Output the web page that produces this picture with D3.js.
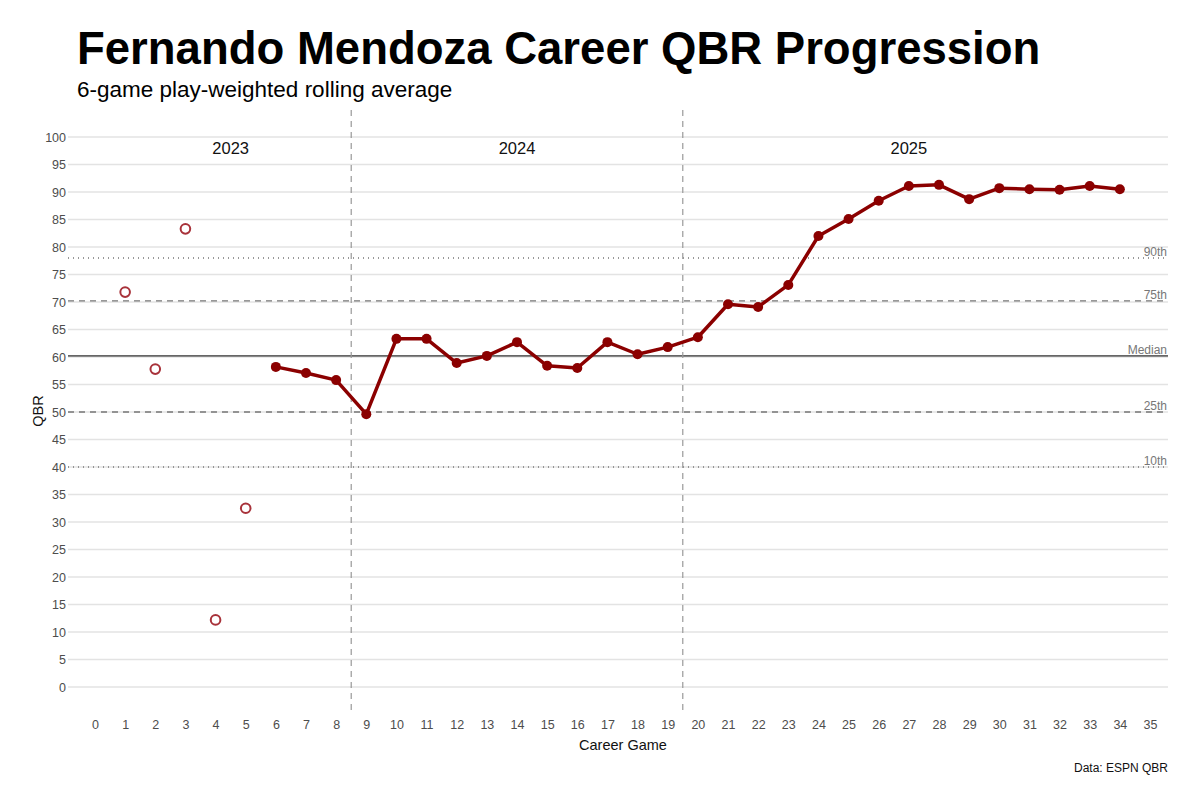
<!DOCTYPE html>
<html>
<head>
<meta charset="utf-8">
<script src="https://cdn.jsdelivr.net/npm/d3@7"></script>
<style>
  body { margin: 0; background: #fff; }
  svg { font-family: "Liberation Sans", Arial, sans-serif; }
</style>
</head>
<body>
<div id="chart"></div>
<script>
// early games (before the 6-game window fills): raw QBR
const earlyGames = [1, 2, 3, 4, 5];
const earlyQbr = [71.8, 57.8, 83.3, 12.2, 32.5];

// rolling average
const rollGames = [6, 7, 8, 9, 10, 11, 12, 13, 14, 15, 16, 17, 18, 19, 20,
  21, 22, 23, 24, 25, 26, 27, 28, 29, 30, 31, 32, 33, 34];
const rollQbr = [58.2, 57.1, 55.8, 49.6, 63.3, 63.3, 58.9, 60.2, 62.7, 58.4, 58.0, 62.7, 60.5, 61.8, 63.6,
  69.6, 69.1, 73.1, 82.0, 85.1, 88.4, 91.1, 91.3, 88.7, 90.7, 90.5, 90.4, 91.1, 90.5];

const pctLabels = ['90th', '75th', 'Median', '25th', '10th'];
const pctValues = [78.0, 70.2, 60.2, 50.0, 40.0];
const pctDash = ['1,4', '6,5', null, '6,5', '1,4'];

const seasons = ['2023', '2024', '2025'];
const seasonFirst = [1, 9, 20];
const seasonLast = [8, 19, 34];
const seasonBreaks = [8.5, 19.5];

const yTicks = d3.range(0, 101, 5);
const xTicks = d3.range(0, 36, 1);

const width = 1200, height = 801;
const svg = d3.select('#chart').append('svg')
    .attr('width', width)
    .attr('height', height);

// panel bounds
const pLeft = 68, pRight = 1168, pTop = 110, pBottom = 712;

let x = d3.scaleLinear().domain([0, 35]).range([95, 1150]);
let y = d3.scaleLinear().domain([0, 100]).range([687, 137]);

// grid
svg.append('g')
    .selectAll('line')
    .data(yTicks)
    .join('line')
    .attr('x1', pLeft).attr('x2', pRight)
    .attr('y1', d => y(d)).attr('y2', d => y(d))
    .attr('stroke', '#e3e3e3')
    .attr('stroke-width', 1.3);

// y axis labels
let yAxis = svg.append('g')
    .attr('transform', `translate(${pLeft}, 0)`)
    .call(d3.axisLeft(y).tickValues(yTicks).tickSize(0).tickPadding(0));
yAxis.select('.domain').remove();
yAxis.selectAll('text')
    .attr('x', -2)
    .attr('font-size', 12.5)
    .attr('fill', '#4d4d4d')
    .attr('font-family', '"Liberation Sans", Arial, sans-serif');

// x axis labels
let xAxis = svg.append('g')
    .attr('transform', `translate(0, ${pBottom + 8})`)
    .call(d3.axisBottom(x).tickValues(xTicks).tickSize(0).tickPadding(0));
xAxis.select('.domain').remove();
xAxis.selectAll('text')
    .attr('font-size', 12.5)
    .attr('fill', '#4d4d4d')
    .attr('font-family', '"Liberation Sans", Arial, sans-serif');

// percentile reference lines
pctValues.forEach((v, i) => {
    let ln = svg.append('line')
        .attr('x1', pLeft).attr('x2', pRight)
        .attr('y1', y(v)).attr('y2', y(v))
        .attr('stroke', i === 2 ? '#666' : '#777')
        .attr('stroke-width', i === 2 ? 1.6 : 1.3);
    if (pctDash[i]) ln.attr('stroke-dasharray', pctDash[i]);
    svg.append('text')
        .attr('x', pRight - 1)
        .attr('y', y(v) - 2)
        .attr('text-anchor', 'end')
        .attr('font-size', 12)
        .attr('fill', '#777')
        .text(pctLabels[i]);
});

// season dividers
svg.append('g')
    .selectAll('line')
    .data(seasonBreaks)
    .join('line')
    .attr('x1', d => x(d)).attr('x2', d => x(d))
    .attr('y1', pTop).attr('y2', pBottom)
    .attr('stroke', '#999')
    .attr('stroke-width', 1.2)
    .attr('stroke-dasharray', '6,5');

// season labels
svg.append('g')
    .selectAll('text')
    .data(seasons)
    .join('text')
    .attr('x', (d, i) => x((seasonFirst[i] + seasonLast[i]) / 2))
    .attr('y', y(98) + 6)
    .attr('text-anchor', 'middle')
    .attr('font-size', 16.5)
    .attr('fill', '#111')
    .text(d => d);

// rolling line
let rollData = rollGames.map((g, i) => ({g, v: rollQbr[i]}));
svg.append('path')
    .datum(rollData)
    .attr('d', d3.line().x(d => x(d.g)).y(d => y(d.v)))
    .attr('fill', 'none')
    .attr('stroke', '#8b0000')
    .attr('stroke-width', 3.5)
    .attr('stroke-linejoin', 'round');

svg.append('g')
    .selectAll('circle')
    .data(rollData)
    .join('circle')
    .attr('cx', d => x(d.g))
    .attr('cy', d => y(d.v))
    .attr('r', 5)
    .attr('fill', '#8b0000');

// early games, open markers
svg.append('g')
    .selectAll('circle')
    .data(earlyGames.map((g, i) => ({g, v: earlyQbr[i]})))
    .join('circle')
    .attr('cx', d => x(d.g))
    .attr('cy', d => y(d.v))
    .attr('r', 4.8)
    .attr('fill', 'none')
    .attr('stroke', '#a8323a')
    .attr('stroke-width', 2);

// titles
svg.append('text')
    .attr('x', 77).attr('y', 64)
    .attr('font-size', 45.5)
    .attr('font-weight', 'bold')
    .attr('fill', '#000')
    .text('Fernando Mendoza Career QBR Progression');
svg.append('text')
    .attr('x', 77).attr('y', 97)
    .attr('font-size', 22.5)
    .attr('fill', '#000')
    .text('6-game play-weighted rolling average');

svg.append('text')
    .attr('transform', `translate(43, ${(pTop + pBottom) / 2}) rotate(-90)`)
    .attr('text-anchor', 'middle')
    .attr('font-size', 14.5)
    .attr('fill', '#111')
    .text('QBR');
svg.append('text')
    .attr('x', (pLeft + pRight) / 2 + 5).attr('y', 750)
    .attr('text-anchor', 'middle')
    .attr('font-size', 14.5)
    .attr('fill', '#111')
    .text('Career Game');
svg.append('text')
    .attr('x', pRight).attr('y', 772)
    .attr('text-anchor', 'end')
    .attr('font-size', 12)
    .attr('fill', '#111')
    .text('Data: ESPN QBR');
</script>
</body>
</html>
